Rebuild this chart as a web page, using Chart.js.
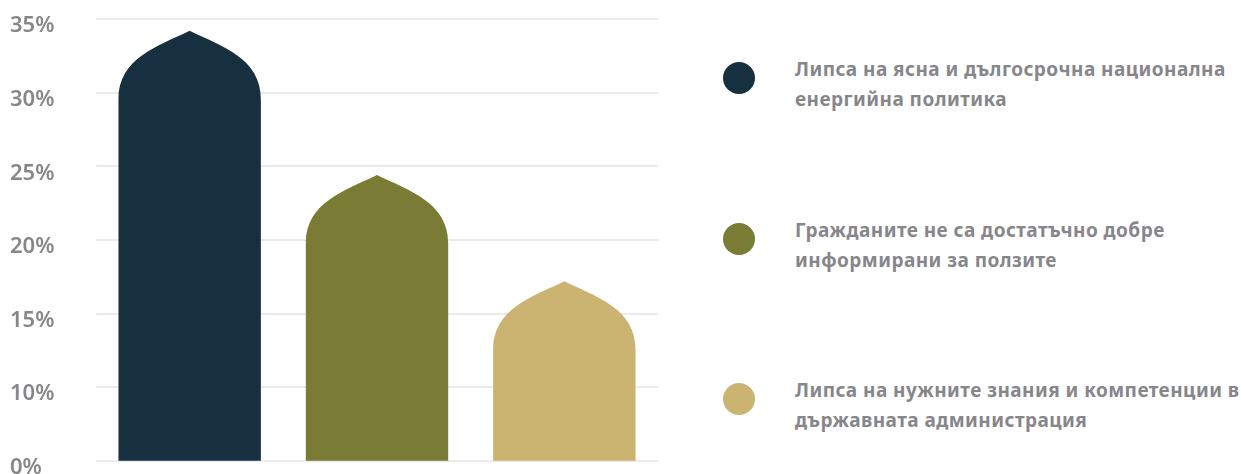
<!DOCTYPE html>
<html lang="bg">
<head>
<meta charset="utf-8">
<title>Бариери</title>
<script src="https://cdn.jsdelivr.net/npm/chart.js@4"></script>
<style>
  html, body { margin: 0; padding: 0; background: #fff; }
  body { width: 1241px; height: 474px; position: relative; overflow: hidden; font-family: "Noto Sans", sans-serif; }
  #chartBox { position: absolute; left: 0; top: 0; width: 670px; height: 474px; }
  #legend { position: absolute; left: 723px; top: 0; width: 518px; }
  .item { position: absolute; left: 0; display: flex; align-items: flex-start; }
  .dot { width: 32px; height: 32px; border-radius: 50%; flex: none; margin-top: 2px; }
  .text { margin-left: 40px; margin-top: -6px; color: #86868b; font-weight: 700; font-size: 19px; letter-spacing: 0.45px; line-height: 30px; white-space: nowrap; }
</style>
</head>
<body>
<div id="chartBox"><canvas id="barChart"></canvas></div>
<div id="legend"></div>
<script>
// Categories (each label split into its two printed lines)
const categories = [
  ['Липса на ясна и дългосрочна национална', 'енергийна политика'],
  ['Гражданите не са достатъчно добре', 'информирани за ползите'],
  ['Липса на нужните знания и компетенции в', 'държавната администрация']
];
const values = [34.2, 24.4, 17.2];
const barColors = ['#16303f', '#7a7b34', '#cbb371'];
const yTickLabels = ['0%', '10%', '15%', '20%', '25%', '30%', '35%'];

const legendTops = [60, 221, 381];

// HTML legend on the right
const legend = document.getElementById('legend');
categories.forEach((lines, i) => {
  const item = document.createElement('div');
  item.className = 'item';
  item.style.top = legendTops[i] + 'px';
  item.innerHTML = `<span class="dot" style="background:${barColors[i]}"></span>` +
    `<span class="text">${lines.join('<br>')}</span>`;
  legend.appendChild(item);
});

// Bars with a pointed dome on top
const domeBars = {
  id: 'domeBars',
  beforeDatasetDraw(chart, args) {
    const ctx = chart.ctx;
    const bottom = chart.chartArea.bottom;
    ctx.save();
    args.meta.data.forEach((bar, i) => {
      const { x, y, base, width } = bar.getProps(['x', 'y', 'base', 'width'], true);
      const half = width / 2;
      const left = x - half;
      const right = x + half;
      const h = width * 0.48;
      const shoulder = y + h;
      const b = Math.min(base, bottom);
      ctx.fillStyle = barColors[i];
      ctx.beginPath();
      ctx.moveTo(left, b);
      ctx.lineTo(left, shoulder);
      ctx.bezierCurveTo(left, shoulder - h * 0.6, x - half * 0.45, y + half * 0.22, x, y);
      ctx.bezierCurveTo(x + half * 0.45, y + half * 0.22, right, shoulder - h * 0.6, right, shoulder);
      ctx.lineTo(right, b);
      ctx.closePath();
      ctx.fill();
    });
    ctx.restore();
    return false;
  }
};

new Chart(document.getElementById('barChart'), {
  type: 'bar',
  data: {
    labels: categories,
    datasets: [{
      data: values,
      backgroundColor: barColors,
      barPercentage: 0.76,
      categoryPercentage: 1
    }]
  },
  options: {
    responsive: true,
    maintainAspectRatio: false,
    animation: false,
    layout: { padding: { top: 19, bottom: 8, left: 10, right: 12 } },
    plugins: {
      legend: { display: false },
      tooltip: { enabled: true }
    },
    scales: {
      x: { display: false },
      y: {
        min: 5,
        max: 35,
        border: { display: false },
        grid: { color: '#ebebeb', lineWidth: 2, drawTicks: false },
        afterFit(scale) { scale.width = 86; },
        ticks: {
          stepSize: 5,
          color: '#87878a',
          crossAlign: 'far',
          labelOffset: 7,
          padding: 0,
          font: { family: 'Noto Sans', size: 22, weight: '600' },
          callback: (value, index) => yTickLabels[index]
        }
      }
    }
  },
  plugins: [domeBars]
});
</script>
</body>
</html>
